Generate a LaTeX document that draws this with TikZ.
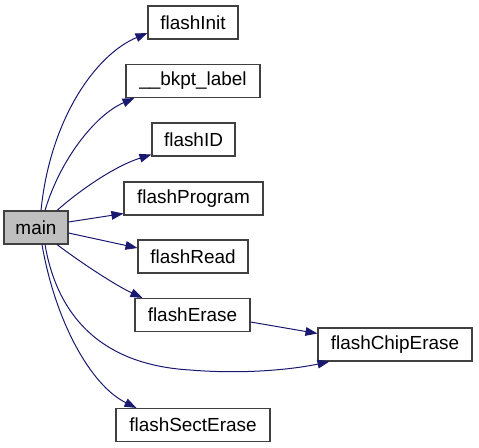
\documentclass[tikz,border=0pt]{standalone}
\usepackage{fontspec}
\setmainfont{Liberation Sans}
\usetikzlibrary{arrows.meta,calc}
\definecolor{edgeblue}{HTML}{191970}
\definecolor{boxline}{HTML}{404040}
\definecolor{mainfill}{HTML}{BFBFBF}
\tikzset{
  fn/.style={draw=boxline, line width=0.8pt, fill=white, inner sep=0pt, minimum height=24.75pt,
    font=\fontsize{14.2}{17}\selectfont},
  edge/.style={draw=edgeblue, line width=0.75pt, -{Triangle[length=9pt,width=6.5pt]}},
}
\begin{document}
\begin{tikzpicture}[x=0.75pt,y=-0.75pt]
\useasboundingbox (0,0) rectangle (479,448);
\node[fn, minimum width=67.5pt] (init) at (193,22.5) {flashInit};
\node[fn, minimum width=100.5pt] (bkpt) at (193,81) {\_\_bkpt\_label};
\node[fn, minimum width=62.25pt] (id) at (193.5,139.5) {flashID};
\node[fn, minimum width=104.25pt] (prog) at (193.5,198.5) {flashProgram};
\node[fn, fill=mainfill, minimum width=48pt] (main) at (36,227.5) {main};
\node[fn, minimum width=82.5pt] (read) at (193,256.5) {flashRead};
\node[fn, minimum width=86.25pt] (erase) at (192.5,315) {flashErase};
\node[fn, minimum width=115.5pt] (chip) at (395,344.5) {flashChipErase};
\node[fn, minimum width=115.5pt] (sect) at (193,425) {flashSectErase};

\coordinate (m1) at ($(main.north)+(5,0)$);
\coordinate (m2) at ($(main.north)+(9,0)$);
\coordinate (m3) at ($(main.north)+(21,0)$);
\coordinate (m4) at ($(main.east)+(0,-5.5)$);
\coordinate (m5) at ($(main.east)+(0,5.5)$);
\coordinate (m6) at ($(main.south)+(21,0)$);
\coordinate (m7) at ($(main.south)+(9,0)$);
\coordinate (m8) at ($(main.south)+(6,0)$);
\coordinate (mid) at (190,370);

\draw[edge] (m1) .. controls (50,120) and (95,55) .. (init.west |- 0,33);
\draw[edge] (m2) .. controls (60,160) and (95,115) .. ($(bkpt.south west)+(9,0)$);
\draw[edge] (m3) .. controls (80,190) and (115,166) .. ($(id.south west)+(0,-2)$);
\draw[edge] (m4) -- ($(prog.south west)+(0,-2)$);
\draw[edge] (m5) -- ($(read.west)+(0,-8.5)$);
\draw[edge] (m6) .. controls (80,262) and (115,285) .. ($(erase.north west)+(8,0)$);
\draw[edge] (m7) .. controls (58,320) and (105,365) .. (mid) .. controls (250,375) and (300,368) .. ($(chip.south west)+(12,0)$);
\draw[edge] (m8) .. controls (55,320) and (90,385) .. ($(sect.north west)+(21,0)$);
\draw[edge] ($(erase.east)+(0,7)$) -- ($(chip.west)+(0,-11)$);
\end{tikzpicture}
\end{document}
